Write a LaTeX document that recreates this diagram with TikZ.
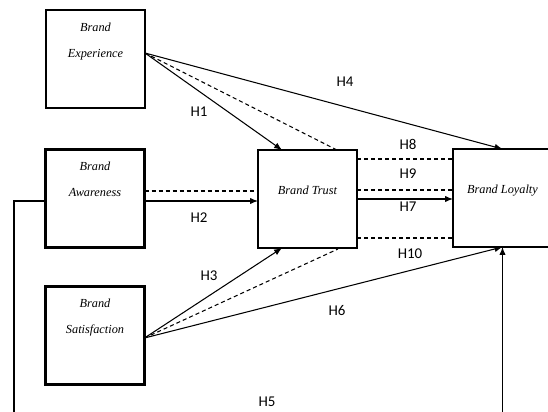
\documentclass[tikz,border=0pt]{standalone}
\usepackage{fontspec}
\newfontfamily\hypfont{Carlito}
\newfontfamily\boxfont{Liberation Serif}
\usepackage{tikz}
\usetikzlibrary{arrows.meta}
\usetikzlibrary{calc}
\usetikzlibrary{positioning}

\begin{document}
\begin{tikzpicture}[x=0.02cm,y=-0.02cm,
  blk/.style={draw,rectangle,line width=1.6pt,minimum width=1.98cm,minimum height=1.96cm,inner sep=0pt,outer sep=0pt},
  btext/.style={anchor=north,align=center,inner sep=0pt,font=\boxfont\itshape\fontsize{7}{14.8}\selectfont},
  conn/.style={line width=0.6pt,-{Latex[length=4.5pt,width=3.6pt]}},
  dconn/.style={line width=0.6pt,dash pattern=on 2.3pt off 1.7pt},
  hyp/.style={font=\hypfont\fontsize{8.5}{10}\selectfont,inner sep=0pt}]
\useasboundingbox (0,0) rectangle (548,412);
\clip (0,0) rectangle (548,412);

% constructs
\node[blk] (ex) at (95.5,59) {};
\node[blk] (aw) at (95,198.5) {};
\node[blk] (sa) at (95,335.5) {};
\node[blk] (tr) at (307.5,199) {};
\node[blk] (lo) at (502.5,198) {};

\node[btext] (ex-t) at ($(ex.north)+(0,13)$) {Brand\\Experience};
\node[btext] (aw-t) at ($(aw.north)+(0,12)$) {Brand\\Awareness};
\node[btext] (sa-t) at ($(sa.north)+(0,12)$) {Brand\\Satisfaction};
\node[btext] (tr-t) at ($(tr.north)+(0,36)$) {Brand Trust};
\node[btext] (lo-t) at ($(lo.north)+(0,36)$) {Brand Loyalty};

% brand experience
\coordinate (exo) at ($(ex.east)+(0,-6)$);
\draw[conn] (exo) -- ($(tr.north west)+(24,0)$);
\draw[dconn] (exo) -- ($(tr.north east)+(-20,0)$);
\draw[conn] (exo) -- (lo.north);

% brand awareness
\draw[dconn] ($(aw.east)+(0,-7.5)$) coordinate (aw1) -- (aw1 -| tr.west);
\draw[conn] ($(aw.east)+(0,2.5)$) coordinate (aw2) -- (aw2 -| tr.west);
\draw[conn] ($(aw.west)+(0,2.5)$) -| (14,440) -| (lo.south);

% brand satisfaction
\coordinate (sao) at ($(sa.east)+(0,2.5)$);
\draw[conn] (sao) -- ($(tr.south west)+(24,0)$);
\draw[dconn] (sao) -- ($(tr.south east)+(-19,1)$);
\draw[conn] (sao) -- (lo.south);

% brand trust
\draw[dconn] ($(tr.east)+(0,-40)$) coordinate (t8) -- (t8 -| lo.west);
\draw[dconn] ($(tr.east)+(0,-9)$) coordinate (t9) -- (t9 -| lo.west);
\draw[conn] (tr.east) -- (tr.east -| lo.west);
\draw[dconn] ($(tr.east)+(0,39)$) coordinate (t10) -- (t10 -| lo.west);

% hypotheses
\node[hyp] (h1) at (199,112) {H1};
\node[hyp] (h2) at (199,218) {H2};
\node[hyp] (h3) at (209,276) {H3};
\node[hyp] (h4) at (345,82) {H4};
\node[hyp] (h5) at (267,402) {H5};
\node[hyp] (h6) at (337,311) {H6};
\node[hyp] (h7) at (408,207) {H7};
\node[hyp] (h8) at (408,144) {H8};
\node[hyp] (h9) at (408,174) {H9};
\node[hyp] (h10) at (410,254) {H10};

\end{tikzpicture}
\end{document}
